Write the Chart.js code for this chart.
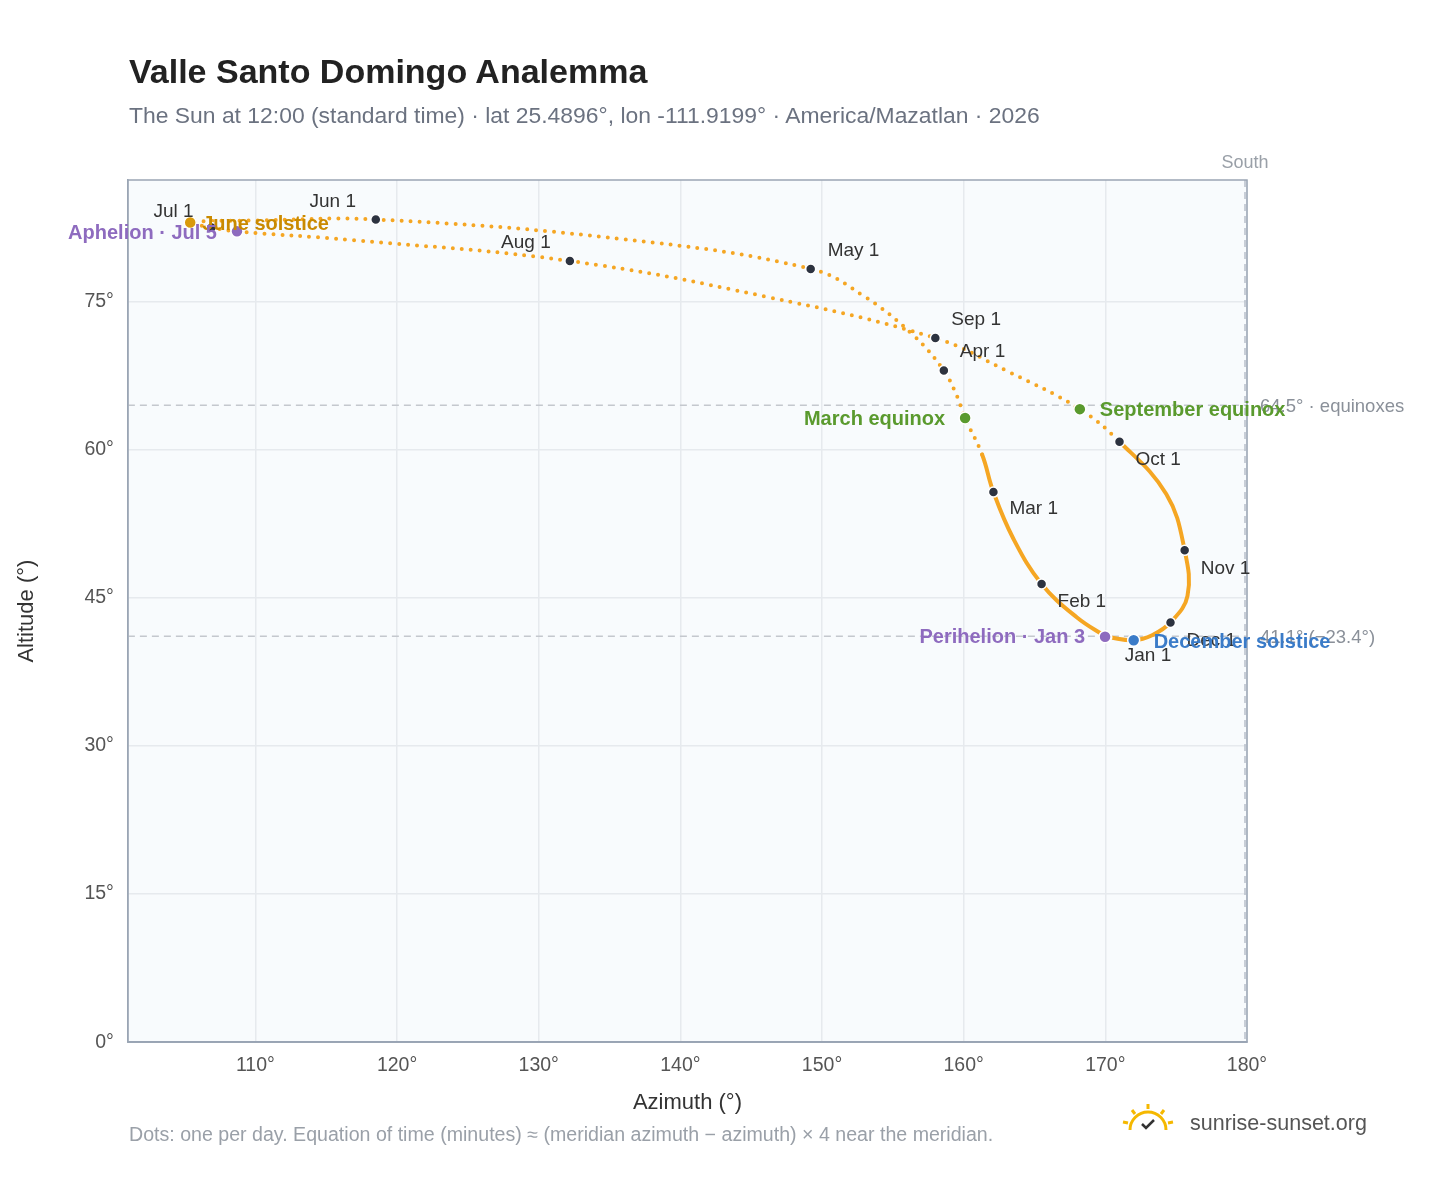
<!DOCTYPE html>
<html><head><meta charset="utf-8">
<script src="https://cdn.jsdelivr.net/npm/chart.js@4"></script>
<style>
body{margin:0;background:#fff;font-family:"Liberation Sans",Arial,sans-serif;}
#wrap{position:absolute;left:0;top:0;width:1448px;height:1188px;}
.t{position:absolute;white-space:nowrap;}
</style></head><body>
<div id="wrap"><canvas id="c" width="1448" height="1188"></canvas></div>
<div class="t" style="left:129px;top:52px;font-size:34px;font-weight:bold;color:#222;">Valle Santo Domingo Analemma</div>
<div class="t" style="left:129px;top:102px;font-size:22.9px;color:#6b7280;">The Sun at 12:00 (standard time) · lat 25.4896°, lon -111.9199° · America/Mazatlan · 2026</div>
<div class="t" style="left:129px;top:1123px;font-size:19.6px;color:#9aa0a8;">Dots: one per day. Equation of time (minutes) ≈ (meridian azimuth − azimuth) × 4 near the meridian.</div>
<div class="t" style="left:1190px;top:1111px;font-size:21.5px;color:#555;">sunrise-sunset.org</div>
<svg class="t" style="left:1120px;top:1102px" width="56" height="32" viewBox="0 0 56 32">
<path d="M10 28 A18 18 0 0 1 46 28" fill="none" stroke="#f5b800" stroke-width="3"/>
<g stroke="#f5b800" stroke-width="3"><line x1="28" y1="2" x2="28" y2="7"/><line x1="12" y1="8" x2="15" y2="12"/><line x1="44" y1="8" x2="41" y2="12"/><line x1="3" y1="20" x2="8" y2="21"/><line x1="53" y1="20" x2="48" y2="21"/></g>
<path d="M22 22 l4 4 l8 -8" fill="none" stroke="#333" stroke-width="2.5"/>
</svg>
<script>
// track (azimuth°, altitude°)
const trackAz  = [170.1,168.0,165.5,163.5,162.1,161.3,160.1,159.5,158.6,156.5,153.0,149.2,136.0,118.5,110.0,105.4,106.9,108.7,117.0,132.2,146.0,158.0,163.0,168.2,171.0,174.3,175.6,175.8,174.6,173.3,172.0,170.2];
const trackAlt = [41.0, 43.0, 46.4, 51.0, 55.7, 59.5, 63.2, 65.5, 68.0, 71.5, 75.5, 78.3, 81.3, 83.3, 83.2, 83.0, 82.5, 82.1, 81.2, 79.1, 75.5, 71.3, 68.0, 64.1, 60.8, 55.5, 49.8, 45.2, 42.5, 41.2, 40.7, 41.0];
const monthLabels = ["Jan 1","Feb 1","Mar 1","Apr 1","May 1","Jun 1","Jul 1","Aug 1","Sep 1","Oct 1","Nov 1","Dec 1"];
const monthAz  = [170.1,165.5,162.1,158.6,149.2,118.5,106.9,132.2,158.0,171.0,175.6,174.6];
const monthAlt = [41.0, 46.4, 55.7, 68.0, 78.3, 83.3, 82.5, 79.1, 71.3, 60.8, 49.8, 42.5];
const eventLabels = ["June solstice","Aphelion · Jul 5","March equinox","September equinox","December solstice","Perihelion · Jan 3"];
const eventAz  = [105.4,108.7,160.1,168.2,172.0,169.98];
const eventAlt = [83.0, 82.1, 63.2, 64.1, 40.7, 41.05];
const eventColors = ["#d99a0b","#8e6bbf","#5a9a2e","#5a9a2e","#3a7bc8","#8e6bbf"];
const textColors  = ["#c98a00","#8e6bbf","#5a9a2e","#5a9a2e","#3a7bc8","#8e6bbf"];
const refAlt = [64.5, 41.1];
const refText = ["64.5° · equinoxes","41.1° (−23.4°)"];
const xTicks = [110,120,130,140,150,160,170,180];
const yTicks = [0,15,30,45,60,75];

const monthOff = [[18,18,"left"],[16,18,"left"],[16,17,"left"],[16,-19,"left"],[17,-18,"left"],[-43,-18,"center"],[-38,-16,"center"],[-44,-18,"center"],[16,-18,"left"],[16,18,"left"],[16,18,"left"],[16,18,"left"]];
const eventOff = [[12,2,"left"],[-20,2,"right"],[-20,1,"right"],[20,1,"left"],[20,2,"left"],[-20,1,"right"]];

const F='"Liberation Sans",Arial';
const pts = trackAz.map((x,i)=>({x,y:trackAlt[i]}));
const plug = {
 id:'deco',
 beforeDatasetsDraw(ch){
  const {ctx,chartArea:a,scales:{x,y}}=ch;
  ctx.save();
  ctx.strokeStyle='#c4c8ce';ctx.lineWidth=1.5;ctx.setLineDash([7,5]);
  refAlt.forEach((v,i)=>{const py=y.getPixelForValue(v);ctx.beginPath();ctx.moveTo(a.left,py);ctx.lineTo(a.right,py);ctx.stroke();
    ctx.fillStyle='#8a9099';ctx.font='18.5px '+F;ctx.textBaseline='middle';ctx.fillText(refText[i],a.right+13,py+2);});
  const px=x.getPixelForValue(180);ctx.strokeStyle='#b8c0ca';ctx.beginPath();ctx.moveTo(px-2,a.top);ctx.lineTo(px-2,a.bottom);ctx.stroke();
  ctx.setLineDash([]);ctx.fillStyle='#9aa0a8';ctx.font='18px '+F;ctx.textAlign='center';ctx.textBaseline='alphabetic';ctx.fillText('South',px-2,a.top-12);
  ctx.strokeStyle='#9aa5b4';ctx.lineWidth=1.5;ctx.strokeRect(a.left,a.top,a.right-a.left,a.bottom-a.top);
  ctx.restore();
 },
 beforeDraw(ch){const {ctx,chartArea:a}=ch;ctx.save();ctx.fillStyle='#f8fbfd';ctx.fillRect(a.left,a.top,a.right-a.left,a.bottom-a.top);ctx.restore();},
 afterDatasetsDraw(ch){
  const {ctx,scales:{x,y}}=ch;ctx.save();ctx.textBaseline='middle';
  ctx.font='19px '+F;ctx.fillStyle='#333';
  monthLabels.forEach((l,i)=>{const o=monthOff[i];ctx.textAlign=o[2];ctx.fillText(l,x.getPixelForValue(monthAz[i])+o[0],y.getPixelForValue(monthAlt[i])+o[1]);});
  ctx.font='bold 20px '+F;
  eventLabels.forEach((l,i)=>{const o=eventOff[i];ctx.fillStyle=textColors[i];ctx.textAlign=o[2];ctx.fillText(l,x.getPixelForValue(eventAz[i])+o[0],y.getPixelForValue(eventAlt[i])+o[1]);});
  ctx.restore();
 }
};
new Chart(document.getElementById('c'),{
 type:'scatter',
 data:{datasets:[
  {data:eventAz.map((x,i)=>({x,y:eventAlt[i]})),pointRadius:6,pointBackgroundColor:eventColors,pointBorderColor:'#fff',pointBorderWidth:1.5,order:0},
  {data:monthAz.map((x,i)=>({x,y:monthAlt[i]})),pointRadius:5,pointBackgroundColor:'#2d3340',pointBorderColor:'#fff',pointBorderWidth:1.5,order:1},
  {data:pts,showLine:true,tension:0.4,pointRadius:0,borderColor:'#f5a623',borderWidth:4,borderCapStyle:'round',order:2,
   segment:{borderDash:c=>(c.p0.parsed.y>61.5||c.p1.parsed.y>61.5)?[0,9]:undefined}}
 ]},
 options:{responsive:false,animation:false,
  layout:{padding:{left:10,top:180,right:201,bottom:68}},
  plugins:{legend:{display:false},tooltip:{enabled:false}},
  scales:{
   x:{min:101,max:180,afterBuildTicks:s=>{s.ticks=xTicks.map(v=>({value:v}));},
     ticks:{callback:v=>v+'°',color:'#555',font:{size:19.5,family:F},padding:12},
     grid:{color:'#e6eaee',lineWidth:1.5,drawTicks:false},border:{color:'#9aa5b4',width:1.5},
     title:{display:true,text:'Azimuth (°)',color:'#333',font:{size:22,family:F},padding:{top:0}}},
   y:{min:0,max:87.3,afterBuildTicks:s=>{s.ticks=yTicks.map(v=>({value:v}));},
     ticks:{callback:v=>v+'°',color:'#555',font:{size:19.5,family:F},padding:14},
     grid:{color:'#e6eaee',lineWidth:1.5,drawTicks:false},border:{color:'#9aa5b4',width:1.5},
     title:{display:true,text:'Altitude (°)',color:'#333',font:{size:22,family:F},padding:{bottom:30}}}
  }},
 plugins:[plug]
});
</script></body></html>
